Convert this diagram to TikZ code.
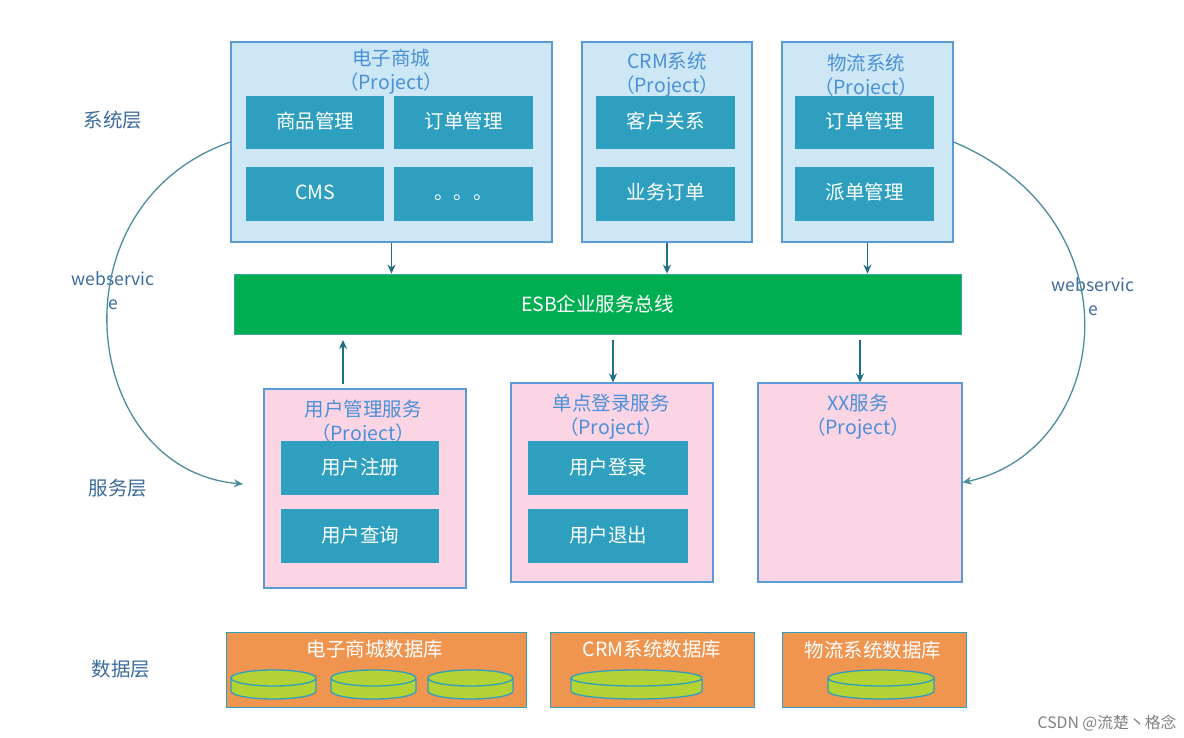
\documentclass[tikz,border=0pt]{standalone}
\usepackage{fontspec}
\setmainfont{Noto Sans CJK SC}
\usetikzlibrary{arrows.meta,positioning,calc}
\usepackage{xcolor}
\tikzset{>=Stealth}
\definecolor{SYScolor}{RGB}{205,232,244}
\definecolor{SRVcolor}{RGB}{252,213,229}
\definecolor{MODcolor}{RGB}{46,159,191}
\definecolor{ESBcolor}{RGB}{0,174,82}
\definecolor{DATcolor}{RGB}{240,149,80}
\definecolor{DSKcolor}{RGB}{181,211,52}
\definecolor{EDGcolor}{RGB}{91,155,213}
\definecolor{ARRcolor}{RGB}{31,111,132}
\definecolor{TXTcolor}{RGB}{74,144,217}
\definecolor{LAYcolor}{RGB}{58,107,156}
\tikzset{
  txt/.style={font=\fontsize{19.5}{24}\selectfont, inner sep=0pt, align=center},
  sysbox/.style={draw=EDGcolor, fill=SYScolor, line width=1.2pt, minimum height=200pt},
  srvbox/.style={draw=EDGcolor, fill=SRVcolor, line width=1.2pt, minimum height=199pt},
  modbox/.style={fill=MODcolor, text=white, txt, text height=16pt, text depth=4pt},
  datbox/.style={draw=MODcolor, fill=DATcolor, line width=1pt, minimum height=75pt},
  dbdisk/.style={draw=MODcolor, line width=1.3pt},
  title/.style={txt, text=TXTcolor},
  dattitle/.style={txt, text=white},
  layer/.style={txt, text=LAYcolor},
  wstxt/.style={layer, font=\fontsize{17.5}{24}\selectfont},
  wire/.style={-{Stealth[length=9pt,width=8pt]}, ARRcolor, line width=1.3pt},
  curve/.style={-{Stealth[length=9pt,width=8pt]}, ARRcolor!80!white, line width=1.3pt}
}
\begin{document}
\begin{tikzpicture}[x=1pt, y=-1pt]
\useasboundingbox (0,0) rectangle (1184,738);

% Capa de sistemas
\node[sysbox, minimum width=321pt] (ecbox) at (391.5,142) {};
\node[sysbox, minimum width=170pt] (crmbox) at (667,142) {};
\node[sysbox, minimum width=171pt] (wlbox) at (867.5,142) {};
\node[title] (ectitle) at (391,72) {电子商城\\（Project）};
\node[title] (crmtitle) at (667,75) {CRM系统\\（Project）};
\node[title] (wltitle) at (866,77) {物流系统\\（Project）};

% Modulos de sistemas
\node[modbox, minimum width=138pt, minimum height=53pt] (goods) at (315,122.5) {商品管理};
\node[modbox, minimum width=139pt, minimum height=53pt] (order) at (463.5,122.5) {订单管理};
\node[modbox, minimum width=138pt, minimum height=54pt] (cms) at (315,194) {CMS};
\node[modbox, minimum width=139pt, minimum height=54pt] (more) at (463.5,194) {。。。};
\node[modbox, minimum width=139pt, minimum height=53pt] (client) at (665.5,122.5) {客户关系};
\node[modbox, minimum width=139pt, minimum height=54pt] (busi) at (665.5,194) {业务订单};
\node[modbox, minimum width=139pt, minimum height=53pt] (wlorder) at (864.5,122.5) {订单管理};
\node[modbox, minimum width=139pt, minimum height=54pt] (dispatch) at (864.5,194) {派单管理};

% Bus
\node[draw=EDGcolor!60!ESBcolor, fill=ESBcolor, text=white, txt, line width=.8pt,
  minimum width=727pt, minimum height=60pt] (esb) at (597.5,304) {ESB企业服务总线};

% Capa de servicios
\node[srvbox, minimum width=202pt] (userbox) at (365,488.5) {};
\node[srvbox, minimum width=202pt] (ssobox) at (612,482.5) {};
\node[srvbox, minimum width=204pt] (xxbox) at (860,482.5) {};
\node[title] (usertitle) at (363,423) {用户管理服务\\（Project）};
\node[title] (ssotitle) at (611,416.5) {单点登录服务\\（Project）};
\node[title] (xxtitle) at (858,416.5) {XX服务\\（Project）};
\node[modbox, minimum width=158pt, minimum height=54pt] (reg) at (360,468) {用户注册};
\node[modbox, minimum width=158pt, minimum height=54pt] (query) at (360,536) {用户查询};
\node[modbox, minimum width=160pt, minimum height=54pt] (login) at (608,468) {用户登录};
\node[modbox, minimum width=160pt, minimum height=54pt] (logout) at (608,536) {用户退出};

% Capa de datos
\node[datbox, minimum width=300pt] (ecdb) at (376,669.5) {};
\node[datbox, minimum width=204pt] (crmdb) at (652,669.5) {};
\node[datbox, minimum width=184pt] (wldb) at (874,669.5) {};
\node[dattitle] (ecdbtitle) at (375,649) {电子商城数据库};
\node[dattitle] (crmdbtitle) at (652,649) {CRM系统数据库};
\node[dattitle] (wldbtitle) at (873,650) {物流系统数据库};

% Discos: centro/radio
\foreach \cx/\rx in {273.5/42.5,373.5/42.5,470.5/42.5,636.5/65.5,881/53} {
  \fill[DSKcolor] (\cx-\rx,678) -- ++(0,13)
    arc[start angle=180, end angle=360, x radius=\rx pt, y radius=8pt] -- ++(0,-13)
    arc[start angle=0, end angle=180, x radius=\rx pt, y radius=8pt] -- cycle;
  \draw[dbdisk] (\cx-\rx,678) -- ++(0,13)
    arc[start angle=180, end angle=360, x radius=\rx pt, y radius=8pt] -- ++(0,-13)
    arc[start angle=0, end angle=180, x radius=\rx pt, y radius=8pt]
    arc[start angle=180, end angle=360, x radius=\rx pt, y radius=8pt];
}

% Etiquetas
\node[layer] (laysys) at (113,120) {系统层};
\node[layer] (laysrv) at (118,488) {服务层};
\node[layer] (laydat) at (121,669) {数据层};
\node[wstxt] (wsleft) at (113,291) {webservic\\e};
\node[wstxt] (wsright) at (1093,297) {webservic\\e};
\node[font=\fontsize{15.8}{16}\selectfont, text=black!50, inner sep=0pt] (mark) at (1107,723) {CSDN @流楚丶格念};

% Flechas
\foreach \src in {ecbox,crmbox,wlbox} {
  \draw[wire] (\src.south) -- (\src.south |- esb.north);
}
\coordinate (upstart) at (343,384);
\coordinate (upend) at (343,340);
\coordinate (ssoout) at (613,340);
\coordinate (xxout) at (860,340);
\coordinate (userin) at (243,484);
\draw[wire] (upstart) -- (upend);
\draw[wire] (ssoout) -- (ssoout |- ssobox.north);
\draw[wire] (xxout) -- (xxout |- xxbox.north);
\draw[curve] (ecbox.west) .. controls (50,205) and (80,470) .. (userin);
\draw[curve] (wlbox.east) .. controls (1140,220) and (1112,450) .. (xxbox.east);

\end{tikzpicture}
\end{document}
